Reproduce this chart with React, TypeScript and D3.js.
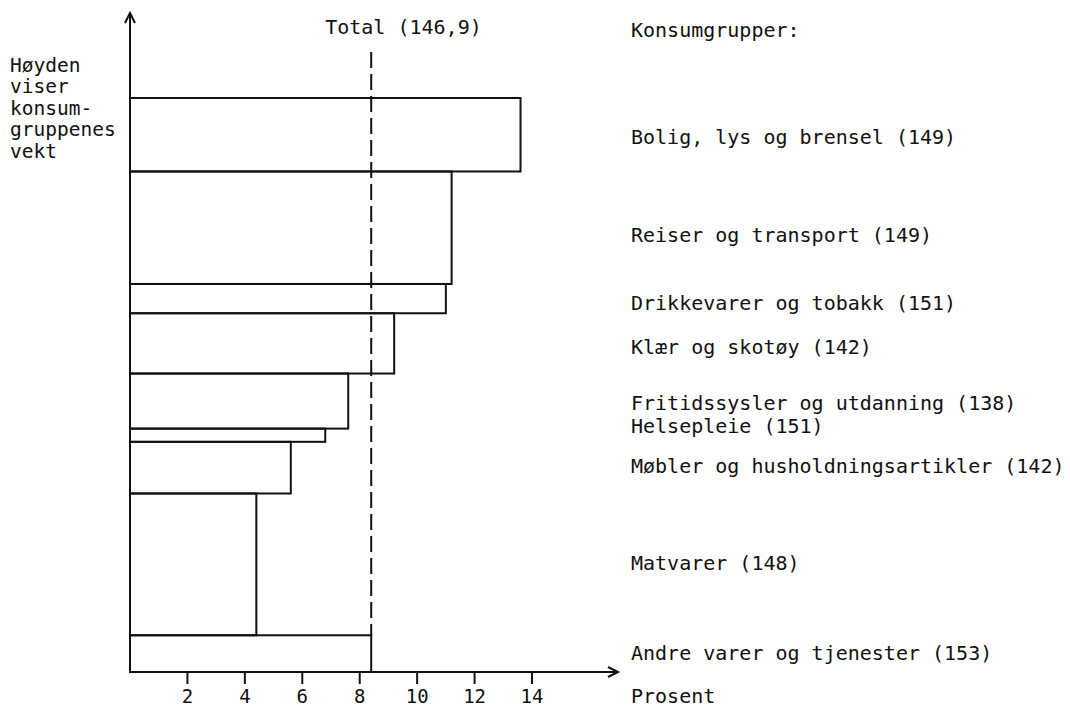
import { useRef, useEffect } from 'react';
import * as d3 from 'd3';

// consumption groups, top to bottom
const GROUPS = [
  'Bolig, lys og brensel (149)',
  'Reiser og transport (149)',
  'Drikkevarer og tobakk (151)',
  'Klær og skotøy (142)',
  'Fritidssysler og utdanning (138)',
  'Helsepleie (151)',
  'Møbler og husholdningsartikler (142)',
  'Matvarer (148)',
  'Andre varer og tjenester (153)',
];
// weight (per mille) -> bar height
const WEIGHTS = [128, 196, 51, 105, 96, 23, 90, 247, 64];
// percent -> bar length
const PERCENT = [13.6, 11.2, 11.0, 9.2, 7.6, 6.8, 5.6, 4.4, 8.4];
const TOTAL = 8.4;
const TOTAL_LABEL = 'Total (146,9)';
const X_TICKS = [2, 4, 6, 8, 10, 12, 14];
const LEFT_NOTE = ['Høyden', 'viser', 'konsum-', 'gruppenes', 'vekt'];

// small vertical nudges so labels sit like the original
const LABEL_DY = [2, 7, 4, 4, 2, -9, -2, -1, -1];

const W = 1070;
const H = 709;
const FONT = '"DejaVu Sans Mono", "Liberation Mono", monospace';

export default function App() {
  const svgRef = useRef<SVGSVGElement>(null);

  useEffect(() => {
    document.body.style.margin = '0';
    const svg = d3.select(svgRef.current);
    svg.selectAll('*').remove();

    const x = d3.scaleLinear().domain([0, 14]).range([130, 532]);
    const y = d3.scaleLinear().domain([0, d3.sum(WEIGHTS)]).range([98, 672]);

    const cum = d3.cumsum(WEIGHTS);
    const rows = GROUPS.map((name, i) => ({
      name,
      start: i === 0 ? 0 : cum[i - 1],
      end: cum[i],
      pct: PERCENT[i],
      dy: LABEL_DY[i],
    }));

    const g = svg.append('g');

    // bars
    g.selectAll('rect.bar')
      .data(rows)
      .join('rect')
      .attr('class', 'bar')
      .attr('x', x(0))
      .attr('y', (d) => y(d.start))
      .attr('width', (d) => x(d.pct) - x(0))
      .attr('height', (d) => y(d.end) - y(d.start))
      .attr('fill', 'none')
      .attr('stroke', '#111')
      .attr('stroke-width', 2);

    // total line
    const last = rows[rows.length - 1];
    g.append('line')
      .attr('x1', x(TOTAL))
      .attr('x2', x(TOTAL))
      .attr('y1', 52)
      .attr('y2', y(last.start))
      .attr('stroke', '#111')
      .attr('stroke-width', 2)
      .attr('stroke-dasharray', '16,6');

    g.append('text')
      .attr('x', x(TOTAL) - 46)
      .attr('y', 27)
      .attr('dy', '0.35em')
      .attr('font-family', FONT)
      .attr('font-size', 20)
      .attr('fill', '#111')
      .text(TOTAL_LABEL);

    // axes
    const x0 = x(0);
    const yBase = y(d3.sum(WEIGHTS));
    const axisEnd = 618;
    const axisTop = 13;
    g.append('path')
      .attr('d', `M${x0},${axisTop}V${yBase}H${axisEnd}`)
      .attr('fill', 'none')
      .attr('stroke', '#111')
      .attr('stroke-width', 2);
    g.append('path')
      .attr('d', `M${x0 - 5},${axisTop + 10}L${x0},${axisTop}L${x0 + 5},${axisTop + 10}`)
      .attr('fill', 'none')
      .attr('stroke', '#111')
      .attr('stroke-width', 2);
    g.append('path')
      .attr('d', `M${axisEnd - 10},${yBase - 5}L${axisEnd},${yBase}L${axisEnd - 10},${yBase + 5}`)
      .attr('fill', 'none')
      .attr('stroke', '#111')
      .attr('stroke-width', 2);

    const ticks = g.selectAll('g.tick')
      .data(X_TICKS)
      .join('g')
      .attr('class', 'tick')
      .attr('transform', (d) => `translate(${x(d)},${yBase})`);
    ticks.append('line')
      .attr('y1', 0)
      .attr('y2', 12)
      .attr('stroke', '#111')
      .attr('stroke-width', 2);
    ticks.append('text')
      .attr('y', 24)
      .attr('dy', '0.35em')
      .attr('text-anchor', 'middle')
      .attr('font-family', FONT)
      .attr('font-size', 19)
      .attr('fill', '#111')
      .text((d) => d);

    // left note
    g.selectAll('text.note')
      .data(LEFT_NOTE)
      .join('text')
      .attr('class', 'note')
      .attr('x', 10)
      .attr('y', (_, i) => 65 + i * 21.5)
      .attr('dy', '0.35em')
      .attr('font-family', FONT)
      .attr('font-size', 19.5)
      .attr('fill', '#111')
      .text((d) => d);

    // group labels
    const labelX = 631;
    g.append('text')
      .attr('x', labelX)
      .attr('y', 30)
      .attr('dy', '0.35em')
      .attr('font-family', FONT)
      .attr('font-size', 20)
      .attr('fill', '#111')
      .text('Konsumgrupper:');

    g.selectAll('text.label')
      .data(rows)
      .join('text')
      .attr('class', 'label')
      .attr('x', labelX)
      .attr('y', (d) => (y(d.start) + y(d.end)) / 2 + d.dy)
      .attr('dy', '0.35em')
      .attr('font-family', FONT)
      .attr('font-size', 20)
      .attr('fill', '#111')
      .text((d) => d.name);

    g.append('text')
      .attr('x', labelX)
      .attr('y', 696)
      .attr('dy', '0.35em')
      .attr('font-family', FONT)
      .attr('font-size', 20)
      .attr('fill', '#111')
      .text('Prosent');
  }, []);

  return <svg ref={svgRef} width={W} height={H} style={{ display: 'block', background: '#fff' }} />;
}
